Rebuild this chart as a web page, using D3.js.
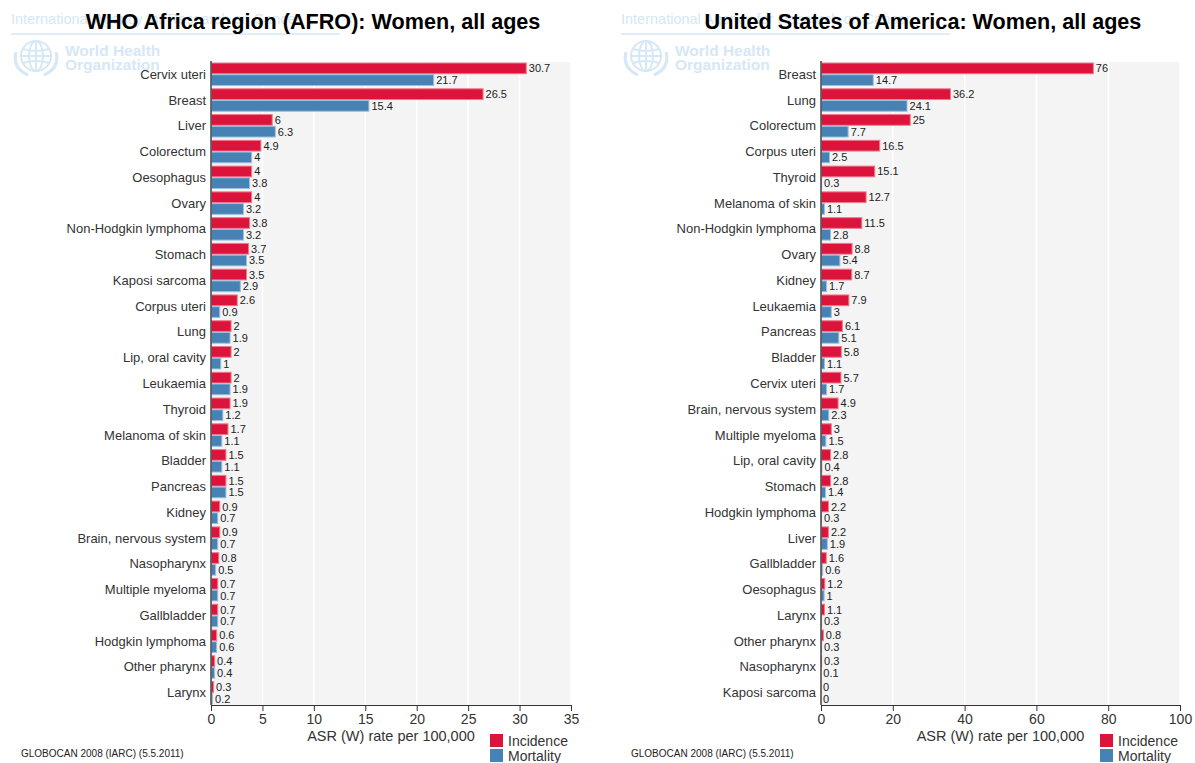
<!DOCTYPE html>
<html><head><meta charset="utf-8">
<script src="https://cdn.jsdelivr.net/npm/d3@7"></script>
<style>
html,body{margin:0;padding:0;background:#fff;}
svg{display:block;font-family:"Liberation Sans",Arial,sans-serif;}
</style></head>
<body>
<svg id="chart" width="1195" height="763"></svg>
<script>
// ---- data ----
const afroTitle = "WHO Africa region (AFRO): Women, all ages";
const afroCancers = ["Cervix uteri","Breast","Liver","Colorectum","Oesophagus","Ovary","Non-Hodgkin lymphoma","Stomach","Kaposi sarcoma","Corpus uteri","Lung","Lip, oral cavity","Leukaemia","Thyroid","Melanoma of skin","Bladder","Pancreas","Kidney","Brain, nervous system","Nasopharynx","Multiple myeloma","Gallbladder","Hodgkin lymphoma","Other pharynx","Larynx"];
const afroIncidence = [30.7,26.5,6,4.9,4,4,3.8,3.7,3.5,2.6,2,2,2,1.9,1.7,1.5,1.5,0.9,0.9,0.8,0.7,0.7,0.6,0.4,0.3];
const afroMortality = [21.7,15.4,6.3,4,3.8,3.2,3.2,3.5,2.9,0.9,1.9,1,1.9,1.2,1.1,1.1,1.5,0.7,0.7,0.5,0.7,0.7,0.6,0.4,0.2];
const afroTicks = [0,5,10,15,20,25,30,35];

const usaTitle = "United States of America: Women, all ages";
const usaCancers = ["Breast","Lung","Colorectum","Corpus uteri","Thyroid","Melanoma of skin","Non-Hodgkin lymphoma","Ovary","Kidney","Leukaemia","Pancreas","Bladder","Cervix uteri","Brain, nervous system","Multiple myeloma","Lip, oral cavity","Stomach","Hodgkin lymphoma","Liver","Gallbladder","Oesophagus","Larynx","Other pharynx","Nasopharynx","Kaposi sarcoma"];
const usaIncidence = [76,36.2,25,16.5,15.1,12.7,11.5,8.8,8.7,7.9,6.1,5.8,5.7,4.9,3,2.8,2.8,2.2,2.2,1.6,1.2,1.1,0.8,0.3,0];
const usaMortality = [14.7,24.1,7.7,2.5,0.3,1.1,2.8,5.4,1.7,3,5.1,1.1,1.7,2.3,1.5,0.4,1.4,0.3,1.9,0.6,1,0.3,0.3,0.1,0];
const usaTicks = [0,20,40,60,80,100];

const seriesNames = ["Incidence","Mortality"];
const seriesColors = ["#DC143C","#4682B4"];
const seriesStroke = ["#f07a90","#9cc0e0"];
const axisTitle = "ASR (W) rate per 100,000";
const sourceNote = "GLOBOCAN 2008 (IARC) (5.5.2011)";

const svg = d3.select("#chart");

function watermark(g){
  const c = "#d6e7f5";
  g.append("text").attr("x",11).attr("y",24).attr("font-size",14.5).attr("fill",c)
    .text("International Agency for Research on Cancer");
  g.append("line").attr("x1",11).attr("x2",340).attr("y1",34).attr("y2",34).attr("stroke",c).attr("stroke-width",1.5);
  const e = g.append("g").attr("transform","translate(36,56)").attr("fill","none").attr("stroke",c).attr("stroke-width",2);
  e.append("circle").attr("r",15);
  e.append("ellipse").attr("rx",7).attr("ry",15);
  e.append("line").attr("x1",-15).attr("x2",15);
  e.append("line").attr("y1",-15).attr("y2",15);
  e.append("path").attr("d","M-13,-7 Q0,-3 13,-7 M-13,7 Q0,3 13,7");
  e.append("path").attr("d","M-20,-4 Q-24,12 -8,19 M20,-4 Q24,12 8,19").attr("stroke-width",3);
  g.append("text").attr("x",65).attr("y",56).attr("font-size",15.5).attr("font-weight","bold").attr("fill",c).text("World Health");
  g.append("text").attr("x",65).attr("y",70).attr("font-size",15.5).attr("font-weight","bold").attr("fill",c).text("Organization");
}

function panel(ox, title, cats, inc, mort, ticks, titleX){
  const g = svg.append("g").attr("transform",`translate(${ox},0)`);
  watermark(g);
  const L = 211, R = ox===0 ? 571 : 570, T = 62, B = 705;
  const x = d3.scaleLinear().domain([ticks[0], ticks[ticks.length-1]]).range([L,R]);
  const y = d3.scaleBand().domain(cats).range([T,B]).paddingInner(0.09).paddingOuter(0.02);
  const ys = d3.scaleBand().domain(seriesNames).range([0,y.bandwidth()]);

  g.append("rect").attr("x",L).attr("y",T).attr("width",R-L).attr("height",B-T).attr("fill","#f4f4f4");
  g.selectAll(".grid").data(ticks.slice(1)).join("line")
    .attr("x1",d=>x(d)).attr("x2",d=>x(d)).attr("y1",T).attr("y2",B)
    .attr("stroke","#fff").attr("stroke-width",1.5);

  g.append("text").attr("x",titleX).attr("y",28.5).attr("text-anchor","middle")
    .attr("font-size",21.6).attr("font-weight","bold").attr("fill","#000").text(title);

  const rows = cats.map((c,i)=>({c, v:[inc[i],mort[i]]}));
  const rg = g.selectAll(".row").data(rows).join("g").attr("transform",d=>`translate(0,${y(d.c)})`);
  seriesNames.forEach((s,k)=>{
    rg.filter(d=>d.v[k]>0).append("rect")
      .attr("x",L+0.5).attr("y",ys(s)+0.5)
      .attr("width",d=>Math.max(0,x(d.v[k])-L-1)).attr("height",ys.bandwidth()-1)
      .attr("fill",seriesColors[k]).attr("stroke",seriesStroke[k]).attr("stroke-width",1);
    rg.append("text").attr("x",d=>x(d.v[k])+2).attr("y",ys(s)+ys.bandwidth()/2+4)
      .attr("font-size",11).attr("fill","#222").text(d=>d.v[k]);
  });
  rg.append("text").attr("x",L-5).attr("y",y.bandwidth()/2+4.5).attr("text-anchor","end")
    .attr("font-size",13).attr("fill","#333").text(d=>d.c);

  const ax = g.append("g").attr("transform",`translate(0,${B})`)
    .call(d3.axisBottom(x).tickValues(ticks).tickSize(6).tickSizeOuter(0).tickPadding(3));
  ax.select(".domain").attr("stroke","#333");
  ax.selectAll(".tick line").attr("stroke","#333");
  ax.selectAll("text").attr("font-size",14).attr("fill","#333").attr("font-family","'Liberation Sans',Arial,sans-serif");
  g.append("line").attr("x1",L).attr("x2",L).attr("y1",T-1).attr("y2",B).attr("stroke","#444").attr("stroke-width",1.5);

  g.append("text").attr("x",(L+R)/2).attr("y",741).attr("text-anchor","middle")
    .attr("font-size",14.5).attr("fill","#333").text(axisTitle);
  g.append("text").attr("x",21).attr("y",757).attr("font-size",10).attr("fill","#222").text(sourceNote);

  seriesNames.forEach((s,k)=>{
    g.append("rect").attr("x",490).attr("y",734+k*15).attr("width",13).attr("height",13).attr("fill",seriesColors[k]);
    g.append("text").attr("x",508).attr("y",746+k*15).attr("font-size",14).attr("fill","#333").text(s);
  });
}

panel(0, afroTitle, afroCancers, afroIncidence, afroMortality, afroTicks, 313);
panel(610, usaTitle, usaCancers, usaIncidence, usaMortality, usaTicks, 313);
</script>
</body></html>
